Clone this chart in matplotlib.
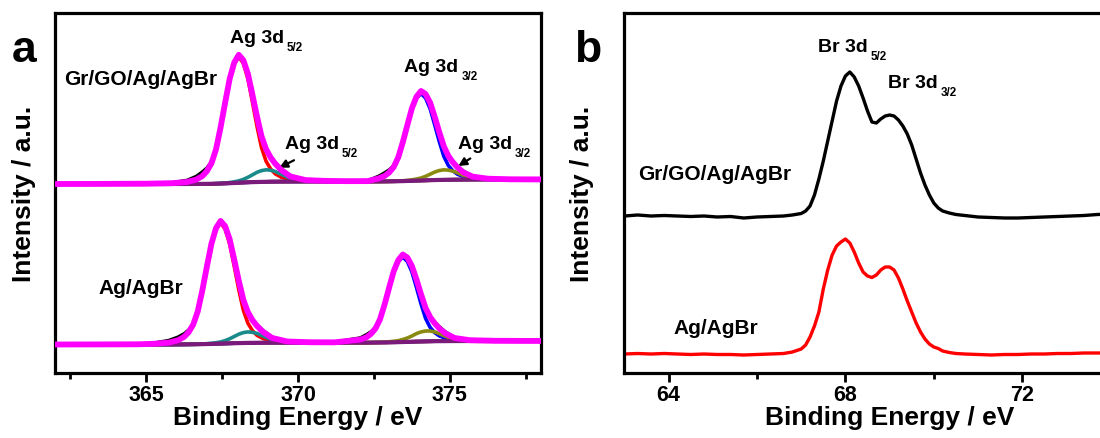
import numpy as np
import matplotlib
matplotlib.use("Agg")
import matplotlib.pyplot as plt
from matplotlib.ticker import MultipleLocator

plt.rcParams['font.family'] = ['Liberation Sans', 'DejaVu Sans']
plt.rcParams['font.weight'] = 'bold'

# ---------------- Panel a : Ag 3d ----------------
# Gr/GO/Ag/AgBr (upper spectrum)
energy_up = [362.0, 363.5, 365.0,
             365.85, 366.35, 366.65, 366.85, 367.0, 367.15, 367.3, 367.45, 367.6, 367.75, 367.9,
             368.05, 368.2, 368.35, 368.5, 368.65, 368.8, 368.95, 369.1, 369.25, 369.45, 369.75, 370.25,
             370.9, 371.6, 372.3,
             372.65, 372.85, 373.0, 373.15, 373.3, 373.45, 373.6, 373.75, 373.9, 374.05, 374.2,
             374.35, 374.5, 374.65, 374.8, 374.95, 375.1, 375.25, 375.45, 375.75, 376.25,
             377.0, 378.0]
bg_up = [189.0, 189.0, 189.0,
         189.0, 189.0, 189.05, 189.1, 189.15, 189.2, 189.3, 189.45, 189.6, 189.8, 190.0,
         190.25, 190.5, 190.7, 190.85, 191.0, 191.1, 191.2, 191.3, 191.35, 191.4, 191.45, 191.5,
         191.5, 191.5, 191.5,
         191.55, 191.6, 191.65, 191.7, 191.8, 191.9, 192.05, 192.2, 192.35, 192.5, 192.65,
         192.8, 192.95, 193.05, 193.15, 193.25, 193.3, 193.35, 193.4, 193.45, 193.5,
         193.5, 193.5]
ag52_main_up = [0, 0.1, 0.3,
                0.8, 2.0, 4.4, 7.8, 12.7, 20.5, 34.1, 55.7, 80.1, 103.6, 119.2,
                126.0, 119.2, 103.6, 80.1, 55.7, 34.1, 20.5, 12.7, 7.8, 4.4, 2.0, 0.8,
                0.4, 0.2, 0.1,
                0, 0, 0, 0, 0, 0, 0, 0, 0, 0, 0,
                0, 0, 0, 0, 0, 0, 0, 0, 0, 0,
                0, 0]
ag52_sub_up = [0, 0, 0,
               0, 0, 0, 0, 0, 0, 0.1, 0.2, 0.4, 0.7, 1.2,
               1.9, 3.1, 5.0, 7.3, 9.7, 11.3, 12.0, 11.5, 10.2, 7.2, 3.1, 0.6,
               0.1, 0, 0,
               0, 0, 0, 0, 0, 0, 0, 0, 0, 0, 0,
               0, 0, 0, 0, 0, 0, 0, 0, 0, 0,
               0, 0]
ag32_main_up = [0, 0, 0,
                0, 0, 0, 0, 0, 0, 0, 0, 0, 0, 0,
                0, 0, 0, 0, 0, 0, 0, 0, 0, 0, 0, 0,
                0.1, 0.15, 0.3,
                3.0, 5.4, 8.8, 14.2, 23.6, 38.5, 55.3, 71.5, 82.3, 87.0, 82.3,
                71.5, 55.3, 38.5, 23.6, 14.2, 8.8, 5.4, 3.0, 1.3, 0.5,
                0.2, 0.1]
ag32_sub_up = [0, 0, 0,
               0, 0, 0, 0, 0, 0, 0, 0, 0, 0, 0,
               0, 0, 0, 0, 0, 0, 0, 0, 0, 0, 0, 0,
               0, 0, 0,
               0, 0, 0, 0.1, 0.2, 0.3, 0.6, 1.0, 1.6, 2.5, 4.0,
               6.0, 8.0, 9.4, 10.0, 9.6, 8.6, 6.8, 4.1, 1.6, 0.3,
               0, 0]
resid_up = [0.5, -0.4, 0.6,
            0.8, 2.0, 3.5, 4.5, 3.5, 2.0, 0.5, 0, 0, 0, 0,
            0, 0, 0, 0, -0.5, -0.5, 0, 0.5, 1.0, 1.5, 1.0, 0.5,
            -0.5, 0.5, 0.8,
            2.5, 3.5, 3.0, 1.5, 0.3, 0, 0, 0, 0, 0, 0,
            0, 0, 0, 0, 0, 0.5, 1.0, 1.5, 1.0, 0.3,
            -0.5, 0.4]

# Ag/AgBr (lower spectrum)
energy_lo = [362.0, 363.5, 364.7,
             365.25, 365.75, 366.05, 366.25, 366.4, 366.55, 366.7, 366.85, 367.0, 367.15, 367.3,
             367.45, 367.6, 367.75, 367.9, 368.05, 368.2, 368.35, 368.5, 368.65, 368.85, 369.15, 369.65,
             370.4, 371.2,
             372.05, 372.25, 372.4, 372.55, 372.7, 372.85, 373.0, 373.15, 373.3, 373.45, 373.6,
             373.75, 373.9, 374.05, 374.2, 374.35, 374.5, 374.65, 374.85, 375.15, 375.65,
             376.5, 377.3, 378.0]
bg_lo = [28.5, 28.5, 28.5,
         28.5, 28.5, 28.55, 28.6, 28.65, 28.7, 28.75, 28.85, 28.95, 29.05, 29.2,
         29.35, 29.5, 29.65, 29.8, 29.9, 30.0, 30.1, 30.15, 30.2, 30.25, 30.3, 30.3,
         30.3, 30.3,
         30.3, 30.35, 30.4, 30.45, 30.5, 30.55, 30.65, 30.75, 30.85, 31.0, 31.1,
         31.25, 31.4, 31.5, 31.6, 31.7, 31.8, 31.85, 31.9, 31.95, 32.0,
         32.0, 32.0, 32.0]
ag52_main_lo = [0, 0.1, 0.2,
                0.7, 1.9, 4.2, 7.5, 12.2, 19.7, 32.8, 53.5, 77.0, 99.5, 114.5,
                121.0, 114.5, 99.5, 77.0, 53.5, 32.8, 19.7, 12.2, 7.5, 4.2, 1.9, 0.7,
                0.3, 0.15,
                0.1, 0, 0, 0, 0, 0, 0, 0, 0, 0, 0,
                0, 0, 0, 0, 0, 0, 0, 0, 0, 0,
                0, 0, 0]
ag52_sub_lo = [0, 0, 0,
               0, 0, 0, 0, 0, 0, 0.1, 0.2, 0.4, 0.7, 1.1,
               1.7, 2.9, 4.6, 6.7, 8.9, 10.4, 11.0, 10.5, 9.4, 6.6, 2.8, 0.5,
               0.05, 0,
               0, 0, 0, 0, 0, 0, 0, 0, 0, 0, 0,
               0, 0, 0, 0, 0, 0, 0, 0, 0, 0,
               0, 0, 0]
ag32_main_lo = [0, 0, 0,
                0, 0, 0, 0, 0, 0, 0, 0, 0, 0, 0,
                0, 0, 0, 0, 0, 0, 0, 0, 0, 0, 0, 0,
                0.1, 0.2,
                3.0, 5.3, 8.6, 13.9, 23.0, 37.6, 54.1, 69.9, 80.4, 85.0, 80.4,
                69.9, 54.1, 37.6, 23.0, 13.9, 8.6, 5.3, 3.0, 1.3, 0.5,
                0.2, 0.1, 0.05]
ag32_sub_lo = [0, 0, 0,
               0, 0, 0, 0, 0, 0, 0, 0, 0, 0, 0,
               0, 0, 0, 0, 0, 0, 0, 0, 0, 0, 0, 0,
               0, 0,
               0, 0, 0.05, 0.1, 0.2, 0.3, 0.6, 1.0, 1.5, 2.5, 3.9,
               5.8, 8.0, 9.6, 10.4, 10.3, 9.3, 7.5, 4.8, 1.8, 0.3,
               0, 0, 0]
resid_lo = [0.4, -0.5, 0.5,
            1.0, 2.5, 3.5, 3.5, 2.5, 1.0, 0.3, 0, 0, 0, 0,
            0, 0, 0, 0, 0, 0, 0.3, 0.8, 1.5, 1.8, 1.2, 0.5,
            -0.4, 0.5,
            2.0, 3.0, 2.5, 1.5, 0.5, 0, 0, 0, 0, 0, 0,
            0, 0, 0, 0.3, 0.8, 1.5, 2.0, 1.8, 1.0, 0.3,
            -0.4, 0.5, 0]

# ---------------- Panel b : Br 3d ----------------
energy_br = [63.0, 63.3, 63.6, 63.9, 64.2, 64.5, 64.8, 65.1, 65.4, 65.7, 66.0, 66.3, 66.6, 66.8,
             67.0, 67.1, 67.2, 67.3, 67.4, 67.5, 67.6, 67.7, 67.8, 67.9, 68.0, 68.1, 68.2, 68.3,
             68.4, 68.5, 68.6, 68.7, 68.8, 68.9, 69.0, 69.1, 69.2, 69.3, 69.4, 69.5, 69.6, 69.7,
             69.8, 69.9, 70.0, 70.1, 70.2, 70.35, 70.5, 70.7, 71.0, 71.3, 71.6, 71.9, 72.2, 72.5,
             72.8, 73.1, 73.4, 73.7, 74.0, 74.5, 75.0]
br_grgo = [157, 158, 157, 157.5, 157, 156.5, 157, 156, 156.5, 155, 156, 156.5, 157, 158,
           159.5, 162, 167, 178, 194, 212, 232, 252, 272, 287, 297, 301, 296, 287,
           275, 262, 251, 250, 254, 257, 258, 257, 253, 247, 239, 228, 214, 200,
           188, 178, 170, 165, 162, 160, 158.5, 157.5, 156, 155.5, 155, 155, 155.5, 156,
           156.5, 157, 157.5, 158.5, 159, 159.5, 160]
br_agagbr = [19, 19.5, 19, 19.5, 19, 18.5, 19, 18.5, 18.5, 18, 18.5, 19, 19.5, 21,
             24, 28, 36, 47, 61, 84, 103, 118, 127, 131, 134, 130, 121, 110,
             101, 97, 95.5, 98, 103, 106, 106, 103, 95, 84, 72, 61, 50, 41,
             34, 29, 26, 24.5, 22, 20.5, 19.5, 19, 18.5, 18, 18.5, 18.5, 19, 19,
             19.5, 19.5, 20, 20, 20, 20, 20]

# ---------------- figure ----------------
W, H = 1100, 439
fig = plt.figure(figsize=(W / 100, H / 100), dpi=100)
ax_bot, ax_top = 374, 14
axA = fig.add_axes([55 / W, 1 - ax_bot / H, (541 - 55) / W, (ax_bot - ax_top) / H])
axB = fig.add_axes([624.4 / W, 1 - ax_bot / H, (1154.8 - 624.4) / W, (ax_bot - ax_top) / H])

C_MAG = '#ff00ff'
C_RED = '#ff0000'
C_TEAL = '#1a8a8a'
C_BLUE = '#0000ff'
C_OLIVE = '#8a8a10'
C_PURP = '#7a1a7a'


def draw_ag(ax, e, bg, m52, s52, m32, s32, res):
    e = np.asarray(e, float)
    bg = np.asarray(bg, float)
    m52, s52 = np.asarray(m52, float), np.asarray(s52, float)
    m32, s32 = np.asarray(m32, float), np.asarray(s32, float)
    fit = bg + m52 + s52 + m32 + s32
    raw = fit + np.asarray(res, float)
    ax.plot(e, raw, color='black', lw=2.0, zorder=2)
    ax.plot(e, bg + m52, color=C_RED, lw=2.6, zorder=3)
    ax.plot(e, bg + s52, color=C_TEAL, lw=2.6, zorder=3)
    ax.plot(e, bg + m32, color=C_BLUE, lw=2.6, zorder=3)
    ax.plot(e, bg + s32, color=C_OLIVE, lw=2.6, zorder=3)
    ax.plot(e, bg, color=C_PURP, lw=3.0, zorder=4)
    ax.plot(e, fit, color=C_MAG, lw=4.2, zorder=5, solid_capstyle='round')


draw_ag(axA, energy_up, bg_up, ag52_main_up, ag52_sub_up, ag32_main_up, ag32_sub_up, resid_up)
draw_ag(axA, energy_lo, bg_lo, ag52_main_lo, ag52_sub_lo, ag32_main_lo, ag32_sub_lo, resid_lo)

axB.plot(energy_br, br_grgo, color='black', lw=2.4)
axB.plot(energy_br, br_agagbr, color='#ff0000', lw=2.4)

for ax in (axA, axB):
    ax.set_ylim(0, 360)
    ax.set_yticks([])
    for sp in ax.spines.values():
        sp.set_linewidth(2.3)
    ax.tick_params(axis='x', which='major', direction='out', length=6.5, width=2.0,
                   labelsize=15.5, pad=1.5)
    ax.tick_params(axis='x', which='minor', direction='out', length=4.5, width=2.0)
    for lab in ax.get_xticklabels():
        lab.set_fontweight('bold')

axA.set_xlim(362, 378)
axA.xaxis.set_major_locator(MultipleLocator(5))
axA.xaxis.set_minor_locator(MultipleLocator(2.5))
axB.set_xlim(63, 75)
axB.xaxis.set_major_locator(MultipleLocator(4))
axB.xaxis.set_minor_locator(MultipleLocator(2))

for ax, yl_x in ((axA, -0.040), (axB, -0.0566)):
    ax.set_xlabel('Binding Energy / eV', fontsize=19, fontweight='bold')
    ax.xaxis.set_label_coords(0.5, -0.088)
    ax.set_ylabel('Intensity / a.u.', fontsize=19, fontweight='bold')
    ax.yaxis.set_label_coords(yl_x, 0.5)


def peak_label(ax, x, y, main, sub, size=14):
    t = ax.text(x, y, main, fontsize=size, fontweight='bold', ha='left', va='baseline')
    ax.annotate(sub, xy=(1, 0), xycoords=t, xytext=(2.2, 3.5), textcoords='offset points',
                fontsize=size * 0.6, fontweight='bold', ha='left', va='top')


# annotations panel a
axA.text(362.3, 295, 'Gr/GO/Ag/AgBr', fontsize=15, fontweight='bold', ha='left', va='center')
axA.text(363.42, 85, 'Ag/AgBr', fontsize=15, fontweight='bold', ha='left', va='center')
peak_label(axA, 367.75, 331, 'Ag 3d', '5/2')
peak_label(axA, 373.5, 302, 'Ag 3d', '3/2')
peak_label(axA, 369.57, 225, 'Ag 3d', '5/2')
peak_label(axA, 375.26, 225, 'Ag 3d', '3/2')
axA.annotate('', xy=(369.3, 204), xytext=(369.95, 214),
             arrowprops=dict(arrowstyle='-|>', color='black', lw=1.6, mutation_scale=12))
axA.annotate('', xy=(375.2, 205.5), xytext=(375.75, 216),
             arrowprops=dict(arrowstyle='-|>', color='black', lw=1.6, mutation_scale=12))

# annotations panel b
axB.text(63.32, 200, 'Gr/GO/Ag/AgBr', fontsize=15, fontweight='bold', ha='left', va='center')
axB.text(64.10, 45, 'Ag/AgBr', fontsize=15, fontweight='bold', ha='left', va='center')
peak_label(axB, 67.38, 322, 'Br 3d', '5/2')
peak_label(axB, 68.97, 286, 'Br 3d', '3/2')

fig.text(12 / W, 1 - 62 / H, 'a', fontsize=32, fontweight='bold', ha='left', va='baseline')
fig.text(574 / W, 1 - 62 / H, 'b', fontsize=32, fontweight='bold', ha='left', va='baseline')

fig.savefig('out.png', dpi=100)
